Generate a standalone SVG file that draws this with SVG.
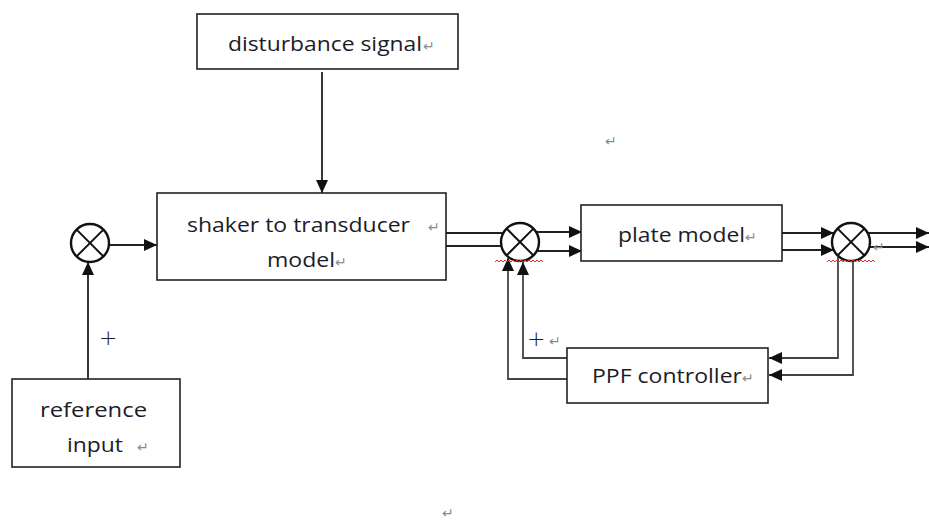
<svg xmlns="http://www.w3.org/2000/svg" width="929" height="524" viewBox="0 0 929 524">
<defs>
<marker id="arr" markerUnits="userSpaceOnUse" markerWidth="14" markerHeight="12" refX="13" refY="6" orient="auto">
<path d="M0,0 L13,6 L0,12 z" fill="#111"/>
</marker>
<style>
.box{fill:#fff;stroke:#222;stroke-width:1.6}
.sum{fill:#fff;stroke:#111;stroke-width:2.4}
.x{stroke:#111;stroke-width:2}
.ln{fill:none;stroke:#222;stroke-width:1.8}
.fb{fill:none;stroke:#444;stroke-width:1.8}
.t{font-family:"Open Sans","Liberation Sans",sans-serif;font-size:20px;fill:#1c1c28}
.plus{font-family:"DejaVu Sans",sans-serif;font-size:22px;font-weight:300;fill:#1c1c28}
.pm{font-family:"DejaVu Sans",sans-serif;font-size:14px;fill:#8a8a8a}
.sq{fill:none;stroke:#e03030;stroke-width:1}
</style>
</defs>
<rect width="929" height="524" fill="#fff"/>

<g id="connectors">
<line class="ln" x1="322" y1="72" x2="322" y2="193" marker-end="url(#arr)"/>
<line class="ln" x1="109" y1="245" x2="157" y2="245" marker-end="url(#arr)"/>
<line class="ln" x1="88" y1="379" x2="88" y2="262" marker-end="url(#arr)"/>
<line class="ln" x1="446" y1="233" x2="503" y2="233"/>
<line class="ln" x1="446" y1="246" x2="501" y2="246"/>
<line class="ln" x1="537" y1="232" x2="582" y2="232" marker-end="url(#arr)"/>
<line class="ln" x1="537" y1="251" x2="582" y2="251" marker-end="url(#arr)"/>
<line class="ln" x1="782" y1="233" x2="834" y2="233" marker-end="url(#arr)"/>
<line class="ln" x1="782" y1="250" x2="834" y2="250" marker-end="url(#arr)"/>
<line class="ln" x1="868" y1="233" x2="929" y2="233" marker-end="url(#arr)"/>
<line class="ln" x1="868" y1="247" x2="929" y2="247" marker-end="url(#arr)"/>
<polyline class="fb" points="838,257 838,358 769,358" marker-end="url(#arr)"/>
<polyline class="fb" points="853,261 853,375 769,375" marker-end="url(#arr)"/>
<polyline class="fb" points="567,358 523,358 523,262" marker-end="url(#arr)"/>
<polyline class="fb" points="567,379 508,379 508,258" marker-end="url(#arr)"/>
</g>

<g id="disturbance">
<rect class="box" x="197" y="14" width="261" height="55"/>
<text class="t" x="228" y="51" textLength="194" lengthAdjust="spacingAndGlyphs">disturbance  signal</text>
<text class="pm" x="423" y="51">↵</text>
</g>

<g id="shaker">
<rect class="box" x="157" y="193" width="289" height="87"/>
<text class="t" x="187" y="232" textLength="223" lengthAdjust="spacingAndGlyphs">shaker to transducer</text>
<text class="pm" x="428" y="232">↵</text>
<text class="t" x="267" y="267" textLength="68" lengthAdjust="spacingAndGlyphs">model</text>
<text class="pm" x="335" y="267">↵</text>
</g>

<g id="reference">
<rect class="box" x="12" y="379" width="168" height="88"/>
<text class="t" x="40" y="417" textLength="107" lengthAdjust="spacingAndGlyphs">reference</text>
<text class="t" x="67" y="452" textLength="56" lengthAdjust="spacingAndGlyphs">input</text>
<text class="pm" x="137" y="452">↵</text>
</g>

<g id="sum1">
<circle class="sum" cx="90" cy="243" r="19"/>
<line class="x" x1="76.6" y1="229.6" x2="103.4" y2="256.4"/>
<line class="x" x1="76.6" y1="256.4" x2="103.4" y2="229.6"/>
</g>
<text class="plus" x="99" y="345">+</text>

<g id="sum2">
<circle class="sum" cx="520" cy="242" r="19"/>
<line class="x" x1="506.6" y1="228.6" x2="533.4" y2="255.4"/>
<line class="x" x1="506.6" y1="255.4" x2="533.4" y2="228.6"/>
<path class="sq" d="M495,262 l2,-2 l2,2 l2,-2 l2,2 l2,-2 l2,2 l2,-2 l2,2 l2,-2 l2,2 l2,-2 l2,2 l2,-2 l2,2 l2,-2 l2,2 l2,-2 l2,2 l2,-2 l2,2 l2,-2 l2,2 l2,-2 l2,2"/>
</g>
<text class="plus" x="527" y="346">+</text>
<text class="pm" x="549" y="346">↵</text>

<g id="plate">
<rect class="box" x="581" y="205" width="201" height="56"/>
<text class="t" x="618" y="242" textLength="127" lengthAdjust="spacingAndGlyphs">plate model</text>
<text class="pm" x="745" y="242">↵</text>
</g>

<g id="sum3">
<circle class="sum" cx="851" cy="242" r="19"/>
<line class="x" x1="837.6" y1="228.6" x2="864.4" y2="255.4"/>
<line class="x" x1="837.6" y1="255.4" x2="864.4" y2="228.6"/>
<path class="sq" d="M827,262 l2,-2 l2,2 l2,-2 l2,2 l2,-2 l2,2 l2,-2 l2,2 l2,-2 l2,2 l2,-2 l2,2 l2,-2 l2,2 l2,-2 l2,2 l2,-2 l2,2 l2,-2 l2,2 l2,-2 l2,2 l2,-2 l2,2"/>
</g>
<text class="pm" x="873" y="252">↵</text>

<g id="ppf">
<rect class="box" x="567" y="348" width="201" height="55"/>
<text class="t" x="592" y="383" textLength="150" lengthAdjust="spacingAndGlyphs">PPF controller</text>
<text class="pm" x="742" y="383">↵</text>
</g>

<text class="pm" x="605" y="146">↵</text>
<text class="pm" x="442" y="518">↵</text>
</svg>
